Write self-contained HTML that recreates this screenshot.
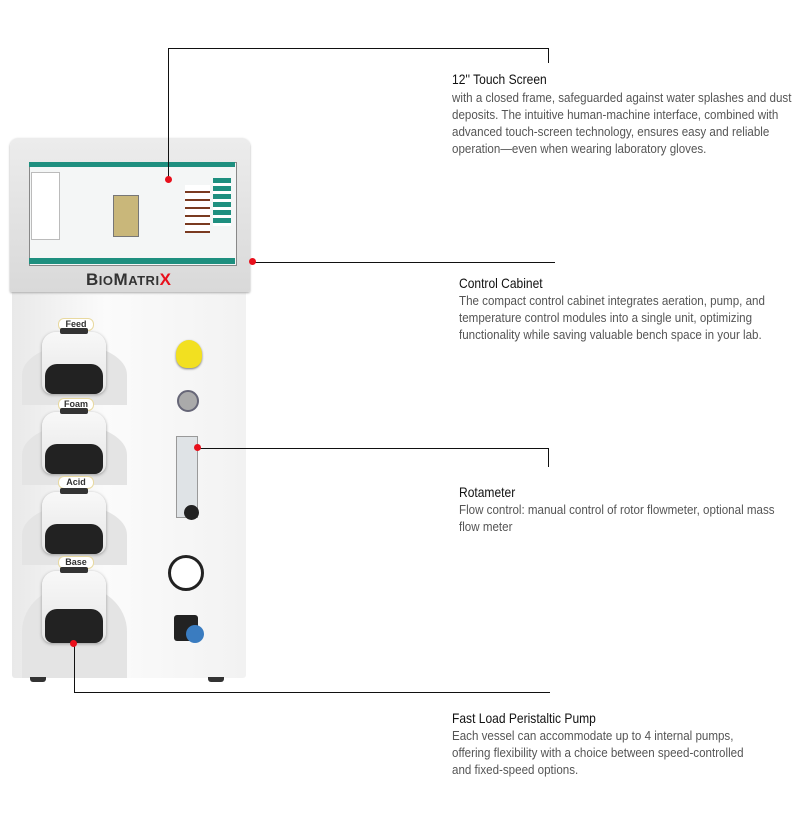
<!DOCTYPE html>
<html><head><meta charset="utf-8"><style>
body{margin:0;width:798px;height:826px;background:#fff;position:relative;overflow:hidden;font-family:"Liberation Sans",sans-serif}
.a{position:absolute}
.t{position:absolute;color:#111;font-size:14px;white-space:nowrap;transform:scaleX(0.86);transform-origin:0 0}
.d{position:absolute;color:#555;font-size:12.6px;line-height:17px;white-space:nowrap;transform:scaleX(0.92);transform-origin:0 0}
.ln{position:absolute;background:#111}
.dot{position:absolute;width:7px;height:7px;border-radius:50%;background:#e8101c}
.pump{position:absolute;left:42px;width:64px;height:62px;border-radius:14px 14px 10px 10px;background:linear-gradient(#f8f8f8,#e6e6e6);box-shadow:0 1px 3px #999}
.pump .b{position:absolute;left:3px;right:3px;bottom:0;height:30px;border-radius:12px 12px 8px 8px;background:#222}
.pump .s{position:absolute;left:18px;top:-4px;width:28px;height:6px;background:#333;border-radius:2px}
.lab{position:absolute;left:58px;width:34px;height:11px;border:1px solid #e8d9a0;border-radius:6px;font:bold 9px "Liberation Sans",sans-serif;text-align:center;line-height:11px;color:#333;background:#fff}
.sh{position:absolute;left:22px;width:105px;height:90px;border-radius:50% 50% 0 0;background:#e4e4e4}
</style></head><body>
<div class="a" style="left:12px;top:290px;width:234px;height:388px;background:linear-gradient(90deg,#e9e9e9,#fbfbfb 40%,#f2f2f2);border-radius:0 0 3px 3px"></div>
<div class="sh" style="top:345px;height:60px"></div>
<div class="sh" style="top:425px;height:60px"></div>
<div class="sh" style="top:505px;height:60px"></div>
<div class="sh" style="top:585px;height:93px"></div>
<div class="a" style="left:30px;top:677px;width:16px;height:5px;background:#333;border-radius:0 0 3px 3px"></div>
<div class="a" style="left:208px;top:677px;width:16px;height:5px;background:#333;border-radius:0 0 3px 3px"></div>
<div class="a" style="left:10px;top:138px;width:240px;height:154px;background:linear-gradient(#ececec,#d9d9d9);border-radius:8px 8px 2px 2px;box-shadow:0 1px 2px #aaa"></div>
<div class="a" style="left:29px;top:162px;width:206px;height:102px;background:#f4f6f6;border:1px solid #888"></div>
<div class="a" style="left:29px;top:162px;width:206px;height:5px;background:#1e8f7f"></div>
<div class="a" style="left:29px;top:258px;width:206px;height:6px;background:#1e8f7f"></div>
<div class="a" style="left:31px;top:172px;width:27px;height:66px;border:1px solid #bbb;background:#fff"></div>
<div class="a" style="left:113px;top:195px;width:24px;height:40px;background:#c9b77a;border:1px solid #777"></div>
<div class="a" style="left:185px;top:185px;width:25px;height:48px;background:repeating-linear-gradient(#fff 0 6px,#7a3a20 6px 8px)"></div>
<div class="a" style="left:213px;top:178px;width:18px;height:48px;background:repeating-linear-gradient(#1e8f7f 0 5px,#fff 5px 8px)"></div>
<div class="a" style="left:86px;top:270px;font:bold 17px 'Liberation Sans',sans-serif;color:#333;letter-spacing:0.5px">B<span style="font-size:13px">IO</span>M<span style="font-size:13px">ATRI</span><span style="color:#e8101c">X</span></div>
<div class="a" style="left:176px;top:340px;width:26px;height:28px;border-radius:50% 50% 40% 40%;background:#f2e020;box-shadow:0 1px 2px #777"></div>
<div class="a" style="left:177px;top:390px;width:18px;height:18px;border-radius:50%;background:#aaa;border:2px solid #667"></div>
<div class="a" style="left:176px;top:436px;width:20px;height:80px;background:#dfe3e6;border:1px solid #999"></div>
<div class="a" style="left:184px;top:505px;width:15px;height:15px;border-radius:50%;background:#222"></div>
<div class="a" style="left:168px;top:555px;width:30px;height:30px;border-radius:50%;background:#fff;border:3px solid #222"></div>
<div class="a" style="left:174px;top:615px;width:24px;height:26px;background:#222;border-radius:3px"></div>
<div class="a" style="left:186px;top:625px;width:18px;height:18px;border-radius:50%;background:#3a7cc0"></div>
<div class="lab" style="top:318px">Feed</div>
<div class="pump" style="top:332px"><div class="s"></div><div class="b"></div></div>
<div class="lab" style="top:398px">Foam</div>
<div class="pump" style="top:412px"><div class="s"></div><div class="b"></div></div>
<div class="lab" style="top:476px">Acid</div>
<div class="pump" style="top:492px"><div class="s"></div><div class="b"></div></div>
<div class="lab" style="top:556px">Base</div>
<div class="pump" style="top:571px;height:72px"><div class="s"></div><div class="b" style="height:34px"></div></div>
<div class="ln" style="left:168px;top:48px;width:1px;height:133px"></div>
<div class="ln" style="left:168px;top:48px;width:381px;height:1px"></div>
<div class="ln" style="left:548px;top:48px;width:1px;height:15px"></div>
<div class="dot" style="left:165px;top:176px"></div>
<div class="ln" style="left:253px;top:262px;width:302px;height:1px"></div>
<div class="dot" style="left:249px;top:258px"></div>
<div class="ln" style="left:198px;top:448px;width:351px;height:1px"></div>
<div class="ln" style="left:548px;top:448px;width:1px;height:19px"></div>
<div class="dot" style="left:194px;top:444px"></div>
<div class="ln" style="left:74px;top:644px;width:1px;height:49px"></div>
<div class="ln" style="left:74px;top:692px;width:476px;height:1px"></div>
<div class="dot" style="left:70px;top:640px"></div>
<div class="t" style="left:452px;top:71px">12'' Touch Screen</div>
<div class="d" style="left:452px;top:90px">with a closed frame, safeguarded against water splashes and dust<br>deposits. The intuitive human-machine interface, combined with<br>advanced touch-screen technology, ensures easy and reliable<br>operation—even when wearing laboratory gloves.</div>
<div class="t" style="left:459px;top:275px">Control Cabinet</div>
<div class="d" style="left:459px;top:293px">The compact control cabinet integrates aeration, pump, and<br>temperature control modules into a single unit, optimizing<br>functionality while saving valuable bench space in your lab.</div>
<div class="t" style="left:459px;top:484px">Rotameter</div>
<div class="d" style="left:459px;top:502px">Flow control: manual control of rotor flowmeter, optional mass<br>flow meter</div>
<div class="t" style="left:452px;top:710px">Fast Load Peristaltic Pump</div>
<div class="d" style="left:452px;top:728px">Each vessel can accommodate up to 4 internal pumps,<br>offering flexibility with a choice between speed-controlled<br>and fixed-speed options.</div>
</body></html>
